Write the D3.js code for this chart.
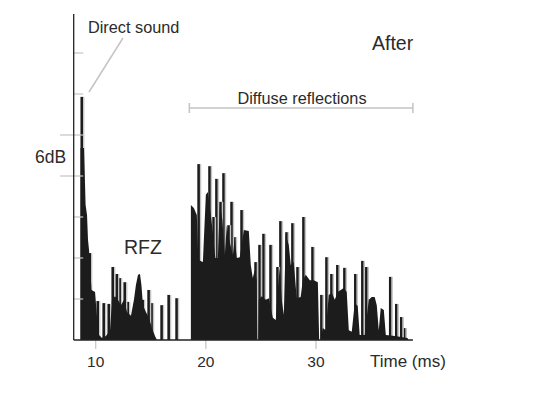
<!DOCTYPE html>
<html>
<head>
<meta charset="utf-8">
<script src="https://cdn.jsdelivr.net/npm/d3@7"></script>
<style>
  body { margin: 0; background: #fff; }
  text { font-family: Helvetica, Arial, "Liberation Sans", sans-serif; fill: #2b2b2b; }
</style>
</head>
<body>
<div id="chart"></div>
<script>
// spikes: [time ms, level] (one level step = one y tick)
var rfzSpikes = [
  [8.76, 5.93], [9.48, 2.12], [10.21, 0.95], [10.75, 0.9], [11.21, 0.88],
  [11.57, 1.78], [11.93, 1.61], [12.2, 1.51], [12.66, 1.41], [12.93, 0.93],
  [14.29, 0.98], [14.83, 1.22], [15.1, 0.9], [16.01, 0.85], [16.65, 1.1],
  [17.37, 1.02]
];
var diffuseSpikes = [
  [19.37, 4.29], [20.36, 4.24], [20.72, 3.0], [20.99, 3.93], [21.36, 3.37],
  [21.63, 4.07], [22.09, 2.8], [22.36, 3.37], [22.63, 2.51], [23.27, 3.17],
  [24.54, 1.9], [24.9, 2.32], [25.26, 2.59], [25.9, 2.32], [26.53, 1.78],
  [26.8, 2.9], [27.35, 2.63], [27.89, 2.85], [28.35, 1.78], [28.89, 3.0],
  [29.71, 2.27], [30.52, 1.1], [30.98, 2.02], [31.43, 1.61], [31.97, 1.83],
  [32.61, 1.76], [33.6, 1.61], [34.24, 1.93], [34.6, 1.78], [36.77, 1.54],
  [37.32, 0.88], [37.77, 0.56], [38.05, 0.29]
];
// dense energy underneath the spikes
var rfzFloor = [
  [8.62, 0], [8.62, 4.68], [8.94, 4.68], [9.08, 3.29], [9.21, 3.05], [9.3, 2.44],
  [9.39, 2.2], [9.62, 1.22], [9.94, 1.17], [10.12, 0.54], [10.3, 0.12], [10.57, 0.05],
  [10.93, 0.1], [11.3, 0.24], [11.48, 0.98], [11.75, 1.07], [12.02, 0.98], [12.29, 0.85],
  [12.57, 0.98], [12.84, 0.68], [13.2, 0.59], [13.47, 0.98], [13.65, 1.34], [13.84, 1.59],
  [14.02, 1.61], [14.15, 1.34], [14.29, 0.85], [14.56, 0.68], [14.83, 0.54], [15.1, 0.29],
  [15.38, 0.1], [15.56, 0]
];
var diffuseFloor = [
  [18.64, 0], [18.64, 3.29], [18.91, 3.22], [19.18, 3.05], [19.32, 1.95], [19.73, 1.9],
  [20.0, 3.54], [20.18, 3.61], [20.45, 3.05], [20.63, 2.63], [20.86, 2.0], [21.09, 2.0],
  [21.27, 3.34], [21.5, 2.93], [21.72, 2.07], [21.9, 2.8], [22.13, 2.44], [22.45, 2.07],
  [22.63, 2.49], [22.81, 2.0], [23.08, 2.02], [23.45, 2.68], [23.9, 2.66], [24.08, 1.83],
  [24.26, 1.51], [24.44, 1.71], [24.62, 1.46], [24.67, 0], [24.76, 0], [24.8, 0.98],
  [25.08, 1.07], [25.44, 0.98], [25.72, 1.02], [26.08, 0.54], [26.35, 0.49], [26.53, 1.22],
  [26.71, 1.76], [26.89, 0.98], [27.08, 0.61], [27.26, 2.56], [27.53, 2.32], [27.71, 1.83],
  [27.98, 1.9], [28.25, 1.02], [28.61, 1.05], [28.8, 1.46], [29.07, 1.59], [29.44, 1.46],
  [29.8, 1.46], [30.17, 1.41], [30.29, 0], [30.43, 0], [30.61, 0.29], [30.89, 0.24],
  [31.16, 1.1], [31.43, 1.15], [31.71, 0.98], [31.97, 1.17], [32.25, 1.22], [32.52, 1.27],
  [32.79, 1.17], [32.98, 0.24], [33.25, 0.2], [33.52, 0.9], [33.79, 0.83], [33.97, 0.12],
  [34.43, 0.12], [34.79, 0.98], [35.06, 1.05], [35.33, 1.05], [35.52, 0.85], [35.7, 0.24],
  [35.88, 0.78], [36.16, 0.73], [36.34, 0.12], [37.16, 0.1], [38.31, 0.05], [38.4, 0]
];
var xTicks = [10, 20, 30];
var yTicks = [1, 2, 3, 4, 5, 6, 7];

var width = 538, height = 393;

var x = d3.scaleLinear().domain([8, 39]).range([73.7, 415.1]);
var y = d3.scaleLinear().domain([0, 8]).range([340, 12]);

var svg = d3.select("#chart").append("svg")
  .attr("width", width)
  .attr("height", height);

var ink = "#1c1c1c", pale = "#c4c4c4";
var spikes = rfzSpikes.concat(diffuseSpikes);

// spike bars
svg.append("g").selectAll("rect")
  .data(spikes)
  .enter().append("rect")
  .attr("x", function (d) { return x(d[0]) - 1.6; })
  .attr("y", function (d) { return y(d[1]); })
  .attr("width", 2.6)
  .attr("height", function (d) { return y(0) - y(d[1]); })
  .style("fill", ink);

// light edge on the right of every spike
svg.append("g").selectAll("line")
  .data(spikes)
  .enter().append("line")
  .attr("x1", function (d) { return x(d[0]) + 1.7; })
  .attr("x2", function (d) { return x(d[0]) + 1.7; })
  .attr("y1", function (d) { return y(d[1]); })
  .attr("y2", y(0))
  .style("stroke", pale)
  .style("stroke-width", 1.3);

var area = d3.area()
  .x(function (d) { return x(d[0]); })
  .y0(y(0))
  .y1(function (d) { return y(d[1]); });

svg.selectAll(".floor")
  .data([rfzFloor, diffuseFloor])
  .enter().append("path")
  .attr("class", "floor")
  .attr("d", area)
  .style("fill", ink);

// y ticks (grey, inside), the 6dB pair reaching out to the label
svg.append("g").selectAll("line")
  .data(yTicks)
  .enter().append("line")
  .attr("x1", function (d) { return (d === 4 || d === 5) ? 60 : x(8) - 0.5; })
  .attr("x2", x(8) + 9.5)
  .attr("y1", function (d) { return y(d); })
  .attr("y2", function (d) { return y(d); })
  .style("stroke", pale)
  .style("stroke-width", 1.2);

// x ticks
svg.append("g").selectAll("line")
  .data(xTicks)
  .enter().append("line")
  .attr("x1", function (d) { return x(d); })
  .attr("x2", function (d) { return x(d); })
  .attr("y1", y(0))
  .attr("y2", y(0) + 9)
  .style("stroke", pale)
  .style("stroke-width", 1.2);

svg.append("g").selectAll("text")
  .data(xTicks)
  .enter().append("text")
  .attr("x", function (d) { return x(d); })
  .attr("y", y(0) + 27)
  .attr("text-anchor", "middle")
  .style("font-size", "15.5px")
  .text(function (d) { return d; });

// axes
svg.append("line")
  .attr("x1", x(8)).attr("x2", x(8))
  .attr("y1", y(7.95)).attr("y2", y(0))
  .style("stroke", "#222").style("stroke-width", 1.3);
svg.append("line")
  .attr("x1", x(8)).attr("x2", x(38.8))
  .attr("y1", y(0)).attr("y2", y(0))
  .style("stroke", "#222").style("stroke-width", 1.3);

svg.append("text")
  .attr("x", 370).attr("y", y(0) + 27)
  .style("font-size", "17px")
  .text("Time (ms)");

svg.append("text")
  .attr("x", 35).attr("y", 163)
  .style("font-size", "17.5px")
  .text("6dB");

// annotations
svg.append("line")
  .attr("x1", 123).attr("y1", 38)
  .attr("x2", 89).attr("y2", 92)
  .style("stroke", pale).style("stroke-width", 1.5);
svg.append("text")
  .attr("x", 88).attr("y", 33)
  .style("font-size", "16.3px")
  .text("Direct sound");

svg.append("text")
  .attr("x", 372).attr("y", 50)
  .style("font-size", "19.5px")
  .text("After");

svg.append("text")
  .attr("x", 124).attr("y", 254)
  .style("font-size", "19.5px")
  .text("RFZ");

var bx0 = x(18.5), bx1 = x(38.8), by = 108;
svg.append("path")
  .attr("d", "M" + bx0 + "," + (by - 5) + "V" + (by + 5) + "M" + bx0 + "," + by +
    "H" + bx1 + "M" + bx1 + "," + (by - 5) + "V" + (by + 5))
  .style("fill", "none")
  .style("stroke", pale)
  .style("stroke-width", 1.5);
svg.append("text")
  .attr("x", 302).attr("y", 104)
  .attr("text-anchor", "middle")
  .style("font-size", "16.3px")
  .text("Diffuse reflections");
</script>
</body>
</html>
